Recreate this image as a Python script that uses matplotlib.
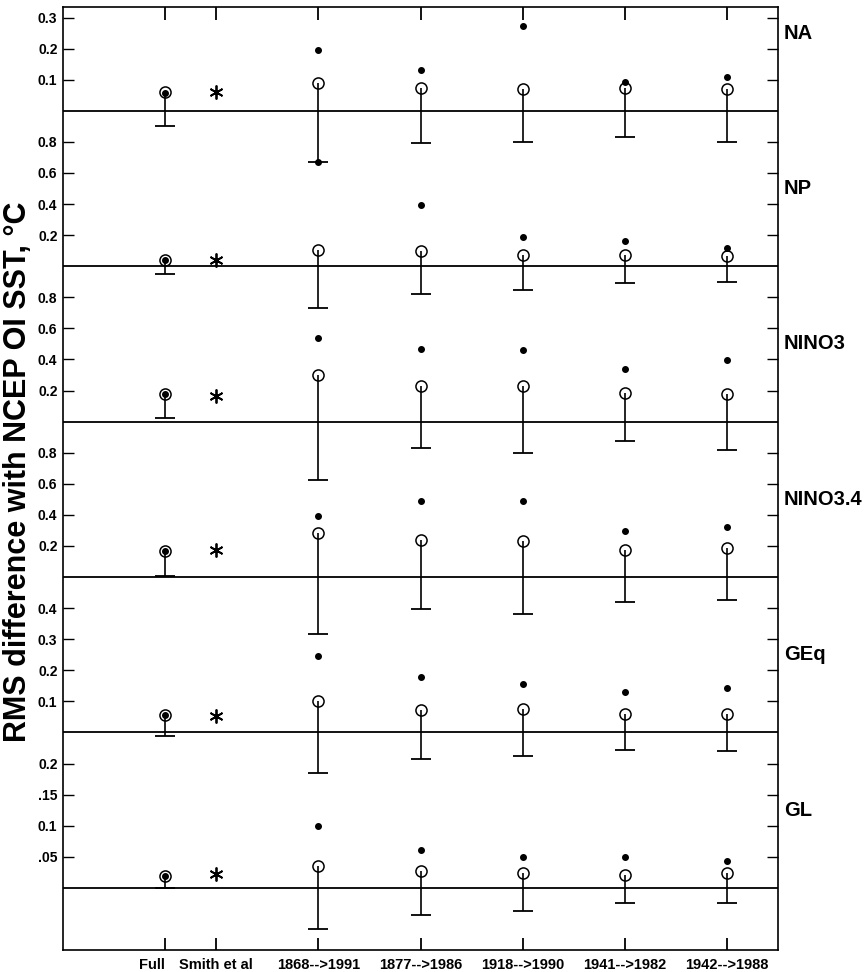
import matplotlib
matplotlib.use("Agg")
import matplotlib.pyplot as plt
import numpy as np

plt.rcParams['font.family'] = ['Liberation Sans', 'DejaVu Sans']
plt.rcParams['font.weight'] = 'bold'

# ---------------- data ----------------
categories = ['Full', 'Smith et al', '1868-->1991', '1877-->1986',
              '1918-->1990', '1941-->1982', '1942-->1988']
cat_pos = [1, 1.5, 2.5, 3.5, 4.5, 5.5, 6.5]
period_pos = [1, 2.5, 3.5, 4.5, 5.5, 6.5]   # Full + 5 periods
smith_pos = 1.5

panels = ['NA', 'NP', 'NINO3', 'NINO3.4', 'GEq', 'GL']
units = [0.1, 0.2, 0.2, 0.2, 0.1, 0.05]     # value per tick step

# open circles (Full, 1868, 1877, 1918, 1941, 1942)
circ_NA = [0.060, 0.089, 0.073, 0.070, 0.073, 0.070]
circ_NP = [0.043, 0.107, 0.098, 0.069, 0.069, 0.064]
circ_NINO3 = [0.179, 0.301, 0.232, 0.232, 0.183, 0.179]
circ_NINO34 = [0.169, 0.283, 0.240, 0.229, 0.175, 0.186]
circ_GEq = [0.057, 0.100, 0.072, 0.075, 0.059, 0.059]
circ_GL = [0.019, 0.035, 0.027, 0.024, 0.020, 0.024]

# filled dots
dot_NA = [0.057, 0.196, 0.132, 0.274, 0.094, 0.110]
dot_NP = [0.043, 0.670, 0.394, 0.188, 0.161, 0.118]
dot_NINO3 = [0.179, 0.538, 0.469, 0.463, 0.340, 0.394]
dot_NINO34 = [0.169, 0.390, 0.492, 0.492, 0.298, 0.325]
dot_GEq = [0.057, 0.247, 0.179, 0.157, 0.131, 0.143]
dot_GL = [0.019, 0.100, 0.061, 0.050, 0.049, 0.043]

# lower ends of the error bars
low_NA = [-0.048, -0.166, -0.104, -0.099, -0.083, -0.099]
low_NP = [-0.047, -0.268, -0.180, -0.150, -0.107, -0.100]
low_NINO3 = [0.026, -0.376, -0.172, -0.204, -0.123, -0.183]
low_NINO34 = [0.008, -0.366, -0.204, -0.238, -0.161, -0.150]
low_GEq = [-0.011, -0.130, -0.087, -0.075, -0.056, -0.059]
low_GL = [0.000, -0.067, -0.044, -0.038, -0.025, -0.024]

# Smith et al asterisks
smith = [0.062, 0.043, 0.168, 0.171, 0.052, 0.023]

circles = [circ_NA, circ_NP, circ_NINO3, circ_NINO34, circ_GEq, circ_GL]
dots = [dot_NA, dot_NP, dot_NINO3, dot_NINO34, dot_GEq, dot_GL]
lows = [low_NA, low_NP, low_NINO3, low_NINO34, low_GEq, low_GL]

ytick_labels = [['0.1', '0.2', '0.3'],
                ['0.2', '0.4', '0.6', '0.8'],
                ['0.2', '0.4', '0.6', '0.8'],
                ['0.2', '0.4', '0.6', '0.8'],
                ['0.1', '0.2', '0.3', '0.4'],
                ['.05', '0.1', '.15', '0.2']]

# ---------------- figure ----------------
fig = plt.figure(figsize=(8.66, 9.72), dpi=100)
rect = [63 / 866, 22 / 972, 715 / 866, 943 / 972]
TOT = 30.34      # total height in tick steps
BELOW = 2.0      # steps below bottom baseline
STEP = 5         # steps per panel

for i, name in enumerate(panels):
    k = len(panels) - 1 - i
    u = units[i]
    ax = fig.add_axes(rect, label=name)
    ax.patch.set_visible(False)
    ax.set_xlim(0, 7)
    ax.set_ylim(-(BELOW + STEP * k) * u, (TOT - BELOW - STEP * k) * u)
    labs = ytick_labels[i]
    ticks = [u * (j + 1) for j in range(len(labs))]
    ax.set_yticks(ticks)
    ax.set_yticklabels(labs, fontsize=10, fontweight='bold')
    ax.tick_params(axis='y', direction='in', length=8, width=1,
                   left=True, right=True, labelleft=True, labelright=False, pad=4)
    if i == 0:
        ax.xaxis.set_ticks_position('both')
        ax.set_xticks(cat_pos)
        ax.set_xticklabels(categories, fontsize=10.5, fontweight='bold')
        ax.tick_params(axis='x', which='major', direction='in', length=9,
                       width=1.3, top=True, bottom=True, pad=6,
                       color='black')
        lbls = ax.get_xticklabels()
        lbls[0].set_horizontalalignment('right')
        lbls[0].set_x(1.0)
        for s in ax.spines.values():
            s.set_linewidth(1.2)
            s.set_zorder(5)
    else:
        ax.xaxis.set_visible(False)
        for s in ax.spines.values():
            s.set_visible(False)

    ax.axhline(0, color='black', lw=1.3)

    c = np.array(circles[i])
    d = np.array(dots[i])
    lo = np.array(lows[i])
    ax.vlines(period_pos, lo, c, color='black', lw=1.2)
    ax.plot(period_pos, lo, ls='none', marker='_', markersize=15,
            mew=1.3, color='black')
    ax.plot(period_pos, c, ls='none', marker='o', markersize=8,
            mfc='none', mec='black', mew=1.1)
    ax.plot(period_pos, d, ls='none', marker='o', markersize=4,
            color='black')
    ax.plot([smith_pos], [smith[i]], ls='none', marker=(6, 2, 0),
            markersize=10, mew=1.3, color='black')
    ax.text(1.008, 2.5 * u, name, transform=ax.get_yaxis_transform(),
            fontsize=14.5, fontweight='bold', va='center', ha='left')

fig.text(18 / 866, 1 - 472 / 972, 'RMS difference with NCEP OI SST, \u00b0C',
         rotation=90, fontsize=22, fontweight='bold', va='center', ha='center')

fig.savefig('out.png', dpi=100)
